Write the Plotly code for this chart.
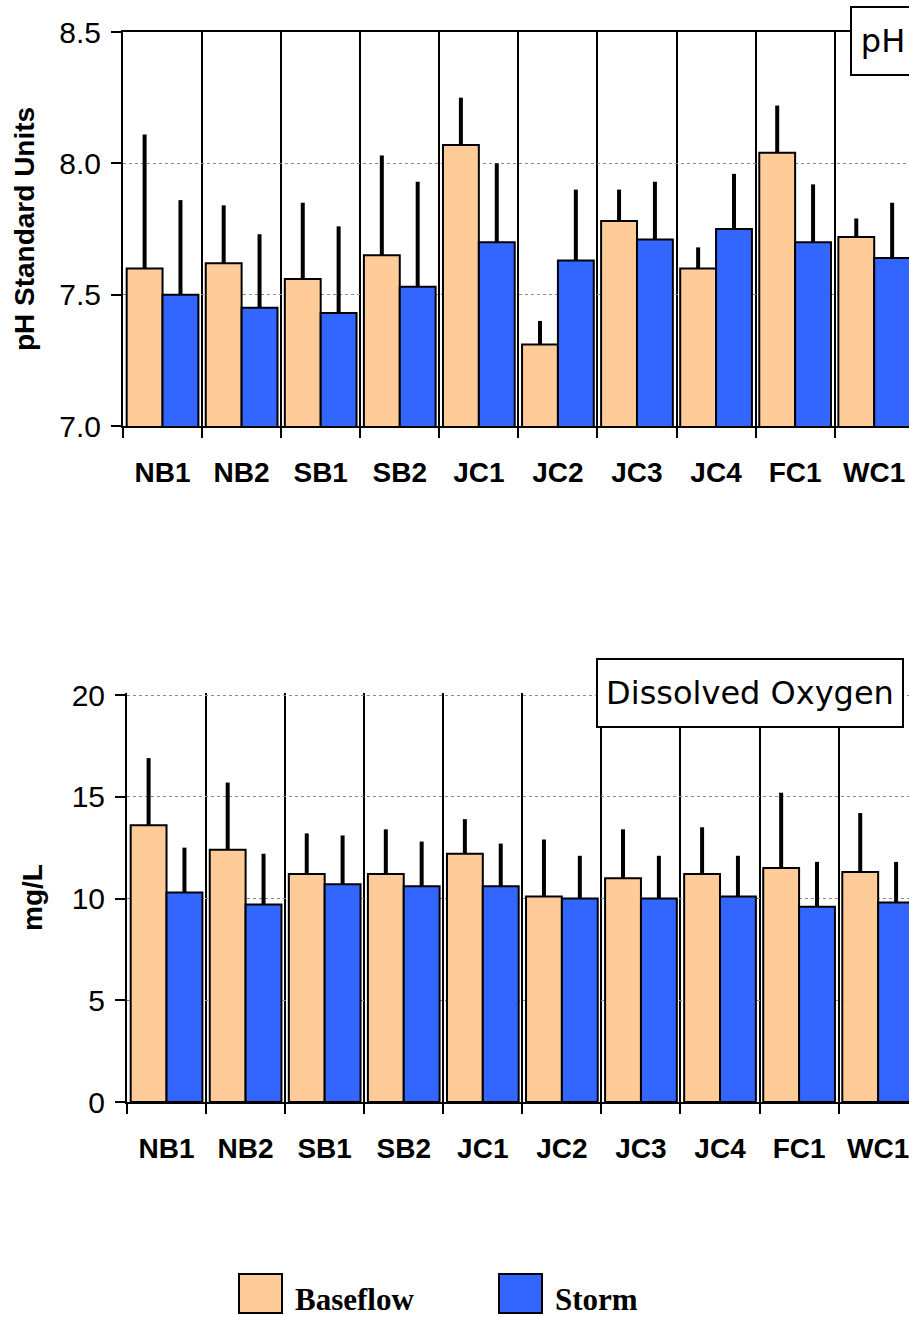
import plotly.graph_objects as go

# sampling sites and the two flow conditions
sites = ['NB1', 'NB2', 'SB1', 'SB2', 'JC1', 'JC2', 'JC3', 'JC4', 'FC1', 'WC1']
series = ['Baseflow', 'Storm']

# pH (standard units), mean and upper error
ph_base = [7.60, 7.62, 7.56, 7.65, 8.07, 7.31, 7.78, 7.60, 8.04, 7.72]
ph_base_err = [0.51, 0.22, 0.29, 0.38, 0.18, 0.09, 0.12, 0.08, 0.18, 0.07]
ph_storm = [7.50, 7.45, 7.43, 7.53, 7.70, 7.63, 7.71, 7.75, 7.70, 7.64]
ph_storm_err = [0.36, 0.28, 0.33, 0.40, 0.30, 0.27, 0.22, 0.21, 0.22, 0.21]

# dissolved oxygen (mg/L), mean and upper error
do_base = [13.6, 12.4, 11.2, 11.2, 12.2, 10.1, 11.0, 11.2, 11.5, 11.3]
do_base_err = [3.3, 3.3, 2.0, 2.2, 1.7, 2.8, 2.4, 2.3, 3.7, 2.9]
do_storm = [10.3, 9.7, 10.7, 10.6, 10.6, 10.0, 10.0, 10.1, 9.6, 9.8]
do_storm_err = [2.2, 2.5, 2.4, 2.2, 2.1, 2.1, 2.1, 2.0, 2.2, 2.0]

W, H = 909, 1317
colors = {'Baseflow': '#FFCC99', 'Storm': '#3366FF'}
sans = 'Liberation Sans, Arial, sans-serif'

def px_x(x):
    return x / W

def px_y(y):
    return 1 - y / H

fig = go.Figure()

panels = [
    ('x', 'y', {'Baseflow': (ph_base, ph_base_err), 'Storm': (ph_storm, ph_storm_err)}),
    ('x2', 'y2', {'Baseflow': (do_base, do_base_err), 'Storm': (do_storm, do_storm_err)}),
]
for xa, ya, data in panels:
    for s in series:
        vals, err = data[s]
        fig.add_bar(x=sites, y=vals, name=s, xaxis=xa, yaxis=ya,
                    marker=dict(color=colors[s], line=dict(color='black', width=2)),
                    error_y=dict(type='data', symmetric=False, array=err,
                                 arrayminus=[0] * len(err), color='black',
                                 thickness=4, width=0),
                    offsetgroup=s, showlegend=False)

xcommon = dict(type='category', tickson='boundaries', ticks='outside', ticklen=10,
               tickwidth=2, tickcolor='black', showline=True, linecolor='black',
               linewidth=2, showgrid=True, gridcolor='black', gridwidth=1.5,
               tickfont=dict(family=sans, size=28, color='black', weight='bold'),
               ticklabelstandoff=20, automargin=False, fixedrange=True)
ycommon = dict(ticks='outside', ticklen=10, tickwidth=2, tickcolor='black',
               showline=True, linecolor='black', linewidth=2, showgrid=True,
               gridcolor='#8a8a8a', gridwidth=1, griddash='dot', zeroline=False,
               tickfont=dict(family=sans, size=30, color='black'),
               automargin=False, ticklabelstandoff=4, fixedrange=True)

fig.update_layout(
    width=W, height=H,
    margin=dict(l=0, r=0, t=0, b=0),
    paper_bgcolor='white', plot_bgcolor='white',
    barmode='group', bargap=0.093, bargroupgap=0,
    xaxis=dict(xcommon, domain=[px_x(123), 1], range=[-0.5, 9.44], anchor='y',
               mirror=True),
    yaxis=dict(ycommon, domain=[px_y(426), px_y(32)], range=[7, 8.5],
               tickvals=[7, 7.5, 8, 8.5], tickformat='.1f', anchor='x',
               title=dict(text='pH Standard Units', standoff=16,
                          font=dict(family=sans, size=28, color='black', weight='bold'))),
    xaxis2=dict(xcommon, domain=[px_x(127), 1], range=[-0.5, 9.39], anchor='y2'),
    yaxis2=dict(ycommon, domain=[px_y(1102), px_y(693)], range=[0, 20.1],
                tickvals=[0, 5, 10, 15, 20], anchor='x2',
                title=dict(text='mg/L', standoff=21,
                           font=dict(family=sans, size=28, color='black', weight='bold'))),
)

# panel labels in boxes
boxfont = dict(family='DejaVu Sans, Verdana, sans-serif', size=32, color='black')
fig.add_annotation(text='pH', xref='paper', yref='paper', x=px_x(850), y=px_y(6),
                   xanchor='left', yanchor='top', showarrow=False, font=boxfont,
                   bgcolor='white', bordercolor='black', borderwidth=2,
                   width=60, height=64, align='center')
fig.add_annotation(text='Dissolved Oxygen', xref='paper', yref='paper', x=px_x(596),
                   y=px_y(658), xanchor='left', yanchor='top', showarrow=False,
                   font=boxfont, bgcolor='white', bordercolor='black', borderwidth=2,
                   width=302, height=64)

# legend keys drawn at the bottom
legend_font = dict(family='Liberation Serif, Times New Roman, serif', size=31,
                   color='black', weight='bold')
key_x = [239, 499]
for s, kx in zip(series, key_x):
    fig.add_shape(type='rect', xref='paper', yref='paper',
                  x0=px_x(kx), x1=px_x(kx + 43), y0=px_y(1313), y1=px_y(1274),
                  fillcolor=colors[s], line=dict(color='black', width=2))
    fig.add_annotation(text=s, xref='paper', yref='paper', x=px_x(kx + 54),
                       y=px_y(1299), xanchor='left', yanchor='middle',
                       showarrow=False, font=legend_font)

# drop the page margin so the figure sits at the window's corner
fig.write_html('out.html', config={'displayModeBar': False},
               post_script="document.body.style.margin='0px';")
